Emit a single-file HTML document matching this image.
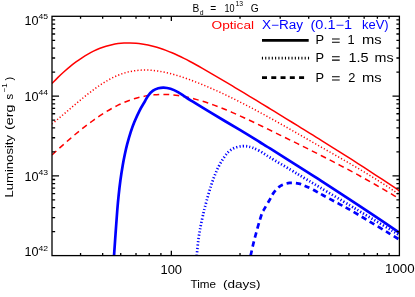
<!DOCTYPE html>
<html><head><meta charset="utf-8"><title>chart</title><style>html,body{margin:0;padding:0;background:#fff;}body{width:415px;height:297px;overflow:hidden;position:relative;font-family:"Liberation Sans",sans-serif;}</style></head><body>
<svg width="415" height="297" viewBox="0 0 415 297" style="position:absolute;left:0;top:0;will-change:transform">
<rect width="415" height="297" fill="#fff"/>
<defs><clipPath id="cp"><rect x="52.0" y="16.3" width="347.4" height="239.3"/></clipPath></defs>
<g clip-path="url(#cp)" fill="none">
<path d="M52.00 83.47 C53.00 82.46 56.00 79.34 58.00 77.40 C60.00 75.45 62.00 73.57 64.00 71.78 C66.00 69.98 68.00 68.26 70.00 66.63 C72.00 64.99 74.00 63.43 76.00 61.95 C78.00 60.48 80.00 59.08 82.00 57.77 C84.00 56.46 86.00 55.24 88.00 54.10 C90.00 52.96 92.00 51.90 94.00 50.94 C96.00 49.98 98.00 49.10 100.00 48.31 C102.00 47.53 104.00 46.84 106.00 46.23 C108.00 45.62 110.00 45.10 112.00 44.67 C114.00 44.23 116.00 43.88 118.00 43.60 C120.00 43.33 122.00 43.14 124.00 43.02 C126.00 42.90 128.00 42.86 130.00 42.89 C132.00 42.92 134.00 43.03 136.00 43.19 C138.00 43.36 140.00 43.61 142.00 43.91 C144.00 44.21 146.00 44.58 148.00 45.01 C150.00 45.43 152.00 45.92 154.00 46.47 C156.00 47.01 158.00 47.62 160.00 48.27 C162.00 48.93 164.00 49.64 166.00 50.39 C168.00 51.15 170.00 51.96 172.00 52.81 C174.00 53.66 176.00 54.56 178.00 55.50 C180.00 56.43 182.00 57.41 184.00 58.41 C186.00 59.41 188.00 60.46 190.00 61.52 C192.00 62.58 194.00 63.67 196.00 64.78 C198.00 65.88 200.00 67.01 202.00 68.15 C204.00 69.29 206.00 70.45 208.00 71.61 C210.00 72.76 212.00 73.93 214.00 75.10 C216.00 76.27 218.00 77.44 220.00 78.62 C222.00 79.80 224.00 80.98 226.00 82.17 C228.00 83.35 230.00 84.54 232.00 85.73 C234.00 86.93 236.00 88.12 238.00 89.32 C240.00 90.52 242.00 91.72 244.00 92.93 C246.00 94.13 248.00 95.34 250.00 96.55 C252.00 97.76 254.00 98.97 256.00 100.19 C258.00 101.40 260.00 102.62 262.00 103.84 C264.00 105.06 266.00 106.28 268.00 107.50 C270.00 108.73 272.00 109.95 274.00 111.18 C276.00 112.40 278.00 113.63 280.00 114.86 C282.00 116.09 284.00 117.32 286.00 118.55 C288.00 119.78 290.00 121.01 292.00 122.24 C294.00 123.48 296.00 124.71 298.00 125.94 C300.00 127.18 302.00 128.41 304.00 129.65 C306.00 130.88 308.00 132.12 310.00 133.36 C312.00 134.60 314.00 135.84 316.00 137.08 C318.00 138.32 320.00 139.57 322.00 140.81 C324.00 142.06 326.00 143.31 328.00 144.56 C330.00 145.81 332.00 147.07 334.00 148.33 C336.00 149.58 338.00 150.84 340.00 152.11 C342.00 153.37 344.00 154.64 346.00 155.91 C348.00 157.18 350.00 158.45 352.00 159.73 C354.00 161.01 356.00 162.29 358.00 163.57 C360.00 164.86 362.00 166.15 364.00 167.44 C366.00 168.74 368.00 170.04 370.00 171.34 C372.00 172.64 374.00 173.95 376.00 175.27 C378.00 176.58 380.00 177.90 382.00 179.22 C384.00 180.55 386.00 181.88 388.00 183.21 C390.00 184.55 392.00 185.89 394.00 187.23 C396.00 188.58 399.00 190.62 400.00 191.29" stroke="#ff0000" stroke-width="1.5"/>
<path d="M52.00 123.96 C53.00 123.14 56.00 120.69 58.00 119.02 C60.00 117.35 62.00 115.65 64.00 113.95 C66.00 112.26 68.00 110.54 70.00 108.84 C72.00 107.14 74.00 105.43 76.00 103.75 C78.00 102.07 80.00 100.40 82.00 98.77 C84.00 97.14 86.00 95.52 88.00 93.96 C90.00 92.40 92.00 90.87 94.00 89.41 C96.00 87.95 98.00 86.53 100.00 85.19 C102.00 83.85 104.00 82.57 106.00 81.38 C108.00 80.18 110.00 79.06 112.00 78.04 C114.00 77.02 116.00 76.09 118.00 75.27 C120.00 74.45 122.00 73.73 124.00 73.11 C126.00 72.49 128.00 71.98 130.00 71.56 C132.00 71.14 134.00 70.81 136.00 70.57 C138.00 70.32 140.00 70.17 142.00 70.10 C144.00 70.02 146.00 70.03 148.00 70.10 C150.00 70.17 152.00 70.32 154.00 70.53 C156.00 70.74 158.00 71.03 160.00 71.36 C162.00 71.69 164.00 72.09 166.00 72.53 C168.00 72.97 170.00 73.47 172.00 74.00 C174.00 74.54 176.00 75.12 178.00 75.74 C180.00 76.35 182.00 77.01 184.00 77.69 C186.00 78.37 188.00 79.09 190.00 79.82 C192.00 80.55 194.00 81.31 196.00 82.08 C198.00 82.86 200.00 83.65 202.00 84.47 C204.00 85.28 206.00 86.12 208.00 86.97 C210.00 87.82 212.00 88.69 214.00 89.58 C216.00 90.46 218.00 91.37 220.00 92.29 C222.00 93.21 224.00 94.14 226.00 95.09 C228.00 96.04 230.00 97.01 232.00 97.99 C234.00 98.96 236.00 99.96 238.00 100.96 C240.00 101.97 242.00 102.99 244.00 104.01 C246.00 105.04 248.00 106.08 250.00 107.13 C252.00 108.19 254.00 109.25 256.00 110.32 C258.00 111.39 260.00 112.47 262.00 113.56 C264.00 114.64 266.00 115.74 268.00 116.84 C270.00 117.95 272.00 119.06 274.00 120.17 C276.00 121.29 278.00 122.41 280.00 123.54 C282.00 124.67 284.00 125.80 286.00 126.94 C288.00 128.07 290.00 129.21 292.00 130.36 C294.00 131.50 296.00 132.64 298.00 133.79 C300.00 134.94 302.00 136.09 304.00 137.23 C306.00 138.38 308.00 139.53 310.00 140.68 C312.00 141.83 314.00 142.98 316.00 144.13 C318.00 145.27 320.00 146.42 322.00 147.56 C324.00 148.70 326.00 149.84 328.00 150.99 C330.00 152.13 332.00 153.27 334.00 154.41 C336.00 155.55 338.00 156.69 340.00 157.84 C342.00 158.99 344.00 160.14 346.00 161.30 C348.00 162.45 350.00 163.61 352.00 164.78 C354.00 165.95 356.00 167.12 358.00 168.30 C360.00 169.49 362.00 170.68 364.00 171.88 C366.00 173.08 368.00 174.29 370.00 175.52 C372.00 176.74 374.00 177.98 376.00 179.23 C378.00 180.48 380.00 181.74 382.00 183.02 C384.00 184.30 386.00 185.59 388.00 186.90 C390.00 188.21 392.00 189.54 394.00 190.89 C396.00 192.23 399.00 194.30 400.00 194.98" stroke="#ff0000" stroke-width="1.5" stroke-dasharray="1.2 2.1"/>
<path d="M52.00 154.91 C53.00 154.00 56.00 151.25 58.00 149.45 C60.00 147.65 62.00 145.85 64.00 144.09 C66.00 142.32 68.00 140.57 70.00 138.85 C72.00 137.13 74.00 135.43 76.00 133.77 C78.00 132.11 80.00 130.47 82.00 128.87 C84.00 127.28 86.00 125.72 88.00 124.20 C90.00 122.68 92.00 121.20 94.00 119.77 C96.00 118.35 98.00 116.96 100.00 115.63 C102.00 114.30 104.00 113.02 106.00 111.80 C108.00 110.58 110.00 109.41 112.00 108.31 C114.00 107.21 116.00 106.17 118.00 105.20 C120.00 104.23 122.00 103.32 124.00 102.48 C126.00 101.64 128.00 100.87 130.00 100.17 C132.00 99.46 134.00 98.83 136.00 98.25 C138.00 97.68 140.00 97.17 142.00 96.73 C144.00 96.28 146.00 95.90 148.00 95.59 C150.00 95.27 152.00 95.02 154.00 94.83 C156.00 94.64 158.00 94.52 160.00 94.45 C162.00 94.39 164.00 94.39 166.00 94.44 C168.00 94.50 170.00 94.63 172.00 94.81 C174.00 94.99 176.00 95.23 178.00 95.52 C180.00 95.81 182.00 96.16 184.00 96.54 C186.00 96.93 188.00 97.37 190.00 97.84 C192.00 98.31 194.00 98.82 196.00 99.37 C198.00 99.91 200.00 100.49 202.00 101.10 C204.00 101.71 206.00 102.36 208.00 103.03 C210.00 103.70 212.00 104.41 214.00 105.13 C216.00 105.86 218.00 106.62 220.00 107.40 C222.00 108.17 224.00 108.98 226.00 109.80 C228.00 110.62 230.00 111.47 232.00 112.33 C234.00 113.19 236.00 114.07 238.00 114.97 C240.00 115.86 242.00 116.77 244.00 117.70 C246.00 118.62 248.00 119.56 250.00 120.50 C252.00 121.44 254.00 122.40 256.00 123.36 C258.00 124.32 260.00 125.29 262.00 126.26 C264.00 127.23 266.00 128.21 268.00 129.19 C270.00 130.17 272.00 131.15 274.00 132.12 C276.00 133.10 278.00 134.08 280.00 135.06 C282.00 136.04 284.00 137.02 286.00 138.01 C288.00 138.99 290.00 139.97 292.00 140.96 C294.00 141.95 296.00 142.93 298.00 143.93 C300.00 144.92 302.00 145.91 304.00 146.91 C306.00 147.90 308.00 148.90 310.00 149.91 C312.00 150.91 314.00 151.92 316.00 152.93 C318.00 153.94 320.00 154.96 322.00 155.98 C324.00 157.00 326.00 158.02 328.00 159.05 C330.00 160.08 332.00 161.11 334.00 162.15 C336.00 163.19 338.00 164.24 340.00 165.29 C342.00 166.34 344.00 167.40 346.00 168.47 C348.00 169.53 350.00 170.60 352.00 171.68 C354.00 172.76 356.00 173.84 358.00 174.94 C360.00 176.03 362.00 177.13 364.00 178.24 C366.00 179.35 368.00 180.46 370.00 181.59 C372.00 182.71 374.00 183.85 376.00 184.99 C378.00 186.13 380.00 187.29 382.00 188.45 C384.00 189.61 386.00 190.78 388.00 191.96 C390.00 193.14 392.00 194.33 394.00 195.54 C396.00 196.74 399.00 198.57 400.00 199.18" stroke="#ff0000" stroke-width="1.5" stroke-dasharray="5.8 4.2"/>
<path d="M114.04 255.60 C114.30 251.78 115.09 240.30 115.63 232.70 C116.18 225.10 116.79 216.23 117.29 210.00 C117.79 203.77 118.12 200.27 118.64 195.30 C119.16 190.33 119.73 185.25 120.42 180.20 C121.11 175.15 122.06 169.23 122.78 165.00 C123.50 160.77 124.01 158.27 124.74 154.80 C125.48 151.33 126.20 147.98 127.19 144.20 C128.19 140.42 129.50 135.80 130.69 132.10 C131.89 128.40 132.86 125.63 134.36 122.00 C135.86 118.37 137.95 113.77 139.71 110.30 C141.47 106.83 143.48 103.72 144.95 101.20 C146.41 98.68 147.16 96.97 148.50 95.20 C149.84 93.43 151.37 91.75 153.00 90.60 C154.63 89.45 156.53 88.80 158.30 88.30 C160.07 87.80 161.57 87.52 163.60 87.60 C165.63 87.68 168.10 88.05 170.50 88.80 C172.90 89.55 175.58 90.78 178.00 92.10 C180.42 93.42 182.90 95.33 185.00 96.70 C187.10 98.07 186.43 97.72 190.60 100.30 C194.77 102.88 201.72 107.22 210.00 112.20 C218.28 117.18 231.97 125.19 240.30 130.21 C248.63 135.22 255.05 139.23 260.00 142.27 C264.95 145.31 262.62 143.83 270.00 148.46 C277.38 153.09 295.97 164.76 304.30 170.04 C312.63 175.31 312.33 175.13 320.00 180.09 C327.67 185.05 341.72 194.18 350.30 199.81 C358.88 205.44 363.22 208.32 371.50 213.86 C379.78 219.40 395.25 229.87 400.00 233.07" stroke="#0000ff" stroke-width="2.7"/>
<path d="M196.75 255.60 C197.02 252.95 197.74 244.58 198.38 239.70 C199.02 234.82 199.76 230.75 200.61 226.30 C201.46 221.85 202.76 216.22 203.49 213.00 C204.21 209.78 204.23 209.82 204.97 207.00 C205.70 204.18 206.87 199.73 207.91 196.10 C208.95 192.47 210.09 188.58 211.21 185.20 C212.32 181.82 213.37 178.85 214.58 175.80 C215.79 172.75 217.01 169.78 218.47 166.90 C219.92 164.02 221.68 160.97 223.31 158.50 C224.93 156.03 226.32 153.87 228.20 152.10 C230.08 150.33 232.25 148.90 234.60 147.90 C236.95 146.90 240.07 146.33 242.30 146.10 C244.53 145.87 246.27 146.22 248.00 146.50 C249.73 146.78 250.70 147.02 252.70 147.80 C254.70 148.58 257.12 149.58 260.00 151.20 C262.88 152.82 264.92 154.41 270.00 157.50 C275.08 160.59 284.67 166.24 290.50 169.74 C296.33 173.23 300.08 175.51 305.00 178.46 C309.92 181.42 312.45 182.95 320.00 187.48 C327.55 192.01 342.98 201.27 350.30 205.66 C357.62 210.05 355.62 208.85 363.90 213.81 C372.18 218.77 393.98 231.81 400.00 235.40" stroke="#0000ff" stroke-width="2.7" stroke-dasharray="1.2 2.1"/>
<path d="M250.62 255.60 C251.30 252.70 252.92 244.97 254.72 238.20 C256.52 231.43 259.85 219.80 261.41 215.00 C262.97 210.20 262.74 211.85 264.07 209.40 C265.40 206.95 267.80 203.08 269.41 200.30 C271.02 197.52 271.88 195.10 273.74 192.70 C275.61 190.30 277.94 187.53 280.60 185.90 C283.26 184.27 286.67 183.28 289.70 182.90 C292.73 182.52 296.25 183.10 298.80 183.60 C301.35 184.10 302.60 184.88 305.00 185.90 C307.40 186.92 310.20 188.13 313.20 189.70 C316.20 191.27 318.83 193.02 323.00 195.30 C327.17 197.58 332.90 200.49 338.20 203.38 C343.50 206.26 344.67 206.62 354.80 212.62 C364.93 218.62 391.63 234.92 399.00 239.38" stroke="#0000ff" stroke-width="2.7" stroke-dasharray="5.4 3.9"/>
</g>
<g stroke="#000" stroke-width="1.3" fill="none">
<rect x="52.0" y="16.3" width="347.4" height="239.3"/>
<path d="M80.56 255.60V253.10 M80.56 16.30V18.80 M102.67 255.60V253.10 M102.67 16.30V18.80 M120.73 255.60V253.10 M120.73 16.30V18.80 M136.01 255.60V253.10 M136.01 16.30V18.80 M149.24 255.60V253.10 M149.24 16.30V18.80 M160.91 255.60V253.10 M160.91 16.30V18.80 M171.35 255.60V250.80 M171.35 16.30V21.10 M240.03 255.60V253.10 M240.03 16.30V18.80 M280.20 255.60V253.10 M280.20 16.30V18.80 M308.71 255.60V253.10 M308.71 16.30V18.80 M330.82 255.60V253.10 M330.82 16.30V18.80 M348.88 255.60V253.10 M348.88 16.30V18.80 M364.16 255.60V253.10 M364.16 16.30V18.80 M377.39 255.60V253.10 M377.39 16.30V18.80 M389.06 255.60V253.10 M389.06 16.30V18.80 M52.05 231.59H55.15 M399.50 231.59H396.40 M52.05 217.54H55.15 M399.50 217.54H396.40 M52.05 207.58H55.15 M399.50 207.58H396.40 M52.05 199.85H55.15 M399.50 199.85H396.40 M52.05 193.53H55.15 M399.50 193.53H396.40 M52.05 188.19H55.15 M399.50 188.19H396.40 M52.05 183.56H55.15 M399.50 183.56H396.40 M52.05 179.48H55.15 M399.50 179.48H396.40 M52.05 175.83H59.05 M399.50 175.83H392.50 M52.05 151.82H55.15 M399.50 151.82H396.40 M52.05 137.77H55.15 M399.50 137.77H396.40 M52.05 127.81H55.15 M399.50 127.81H396.40 M52.05 120.08H55.15 M399.50 120.08H396.40 M52.05 113.76H55.15 M399.50 113.76H396.40 M52.05 108.42H55.15 M399.50 108.42H396.40 M52.05 103.80H55.15 M399.50 103.80H396.40 M52.05 99.72H55.15 M399.50 99.72H396.40 M52.05 96.07H59.05 M399.50 96.07H392.50 M52.05 72.05H55.15 M399.50 72.05H396.40 M52.05 58.01H55.15 M399.50 58.01H396.40 M52.05 48.04H55.15 M399.50 48.04H396.40 M52.05 40.31H55.15 M399.50 40.31H396.40 M52.05 34.00H55.15 M399.50 34.00H396.40 M52.05 28.66H55.15 M399.50 28.66H396.40 M52.05 24.03H55.15 M399.50 24.03H396.40 M52.05 19.95H55.15 M399.50 19.95H396.40"/>
</g>
<g stroke="#000" fill="none">
<path d="M262 40.3H308.7" stroke-width="2.8"/>
<path d="M261.9 58.2H309.2" stroke-width="2.8" stroke-dasharray="1.1 2.19"/>
<path d="M262 77.6H304.5" stroke-width="2.8" stroke-dasharray="5 4.27"/>
<path d="M332 38.90H339.7M332 42.20H339.7" stroke-width="1.05"/>
<path d="M332 56.80H339.7M332 60.10H339.7" stroke-width="1.05"/>
<path d="M332 76.70H339.7M332 80.00H339.7" stroke-width="1.05"/>
</g>
<g font-family="'Liberation Sans', sans-serif">
<text x="192.60" y="11.60" font-size="10.2">B</text>
<text x="199.85" y="14.50" font-size="6.8">d</text>
<text x="210.15" y="11.60" font-size="10.2">=</text>
<text x="224.50" y="11.60" font-size="10.2" textLength="10.08" lengthAdjust="spacingAndGlyphs">10</text>
<text x="235.50" y="6.20" font-size="6.8" textLength="7.55" lengthAdjust="spacingAndGlyphs">13</text>
<text x="250.80" y="11.60" font-size="10.2">G</text>
<text x="211.50" y="28.90" font-size="11.6" fill="#ff0000" textLength="42.54" lengthAdjust="spacingAndGlyphs">Optical</text>
<text x="262.00" y="28.80" font-size="12.0" fill="#0000ff" textLength="41.01" lengthAdjust="spacingAndGlyphs">X&#8722;Ray</text>
<text x="310.50" y="28.80" font-size="12.0" fill="#0000ff" textLength="41.54" lengthAdjust="spacingAndGlyphs">(0.1&#8722;1</text>
<text x="362.00" y="28.80" font-size="12.0" fill="#0000ff" textLength="26.60" lengthAdjust="spacingAndGlyphs">keV)</text>
<text x="315.40" y="44.20" font-size="12.8">P</text>
<text x="347.60" y="44.20" font-size="12.8">1</text>
<text x="362.00" y="44.20" font-size="12.8" textLength="19.64" lengthAdjust="spacingAndGlyphs">ms</text>
<text x="315.40" y="62.10" font-size="12.8">P</text>
<text x="348.50" y="62.10" font-size="12.8" textLength="20.14" lengthAdjust="spacingAndGlyphs">1.5</text>
<text x="374.50" y="62.10" font-size="12.8" textLength="19.07" lengthAdjust="spacingAndGlyphs">ms</text>
<text x="315.40" y="82.00" font-size="12.8">P</text>
<text x="348.25" y="82.00" font-size="12.8">2</text>
<text x="362.00" y="82.00" font-size="12.8" textLength="19.64" lengthAdjust="spacingAndGlyphs">ms</text>
<text x="160.50" y="273.60" font-size="12.5" textLength="21.55" lengthAdjust="spacingAndGlyphs">100</text>
<text x="385.00" y="273.40" font-size="12.5" textLength="29.56" lengthAdjust="spacingAndGlyphs">1000</text>
<text x="190.50" y="288.10" font-size="11.6" textLength="25.51" lengthAdjust="spacingAndGlyphs">Time</text>
<text x="223.00" y="288.10" font-size="11.6" textLength="37.57" lengthAdjust="spacingAndGlyphs">(days)</text>
<text x="24.50" y="24.80" font-size="12.5" textLength="14.10" lengthAdjust="spacingAndGlyphs">10</text>
<text x="38.50" y="19.20" font-size="8.0" textLength="9.57" lengthAdjust="spacingAndGlyphs">45</text>
<text x="24.50" y="100.70" font-size="12.5" textLength="14.10" lengthAdjust="spacingAndGlyphs">10</text>
<text x="38.50" y="95.10" font-size="8.0" textLength="9.52" lengthAdjust="spacingAndGlyphs">44</text>
<text x="24.50" y="180.70" font-size="12.5" textLength="14.10" lengthAdjust="spacingAndGlyphs">10</text>
<text x="38.50" y="175.10" font-size="8.0" textLength="9.57" lengthAdjust="spacingAndGlyphs">43</text>
<text x="24.50" y="256.20" font-size="12.5" textLength="14.10" lengthAdjust="spacingAndGlyphs">10</text>
<text x="38.50" y="250.60" font-size="8.0" textLength="9.57" lengthAdjust="spacingAndGlyphs">42</text>
<text transform="translate(12.70,197.50) rotate(-90)" font-size="11.3" textLength="62.51" lengthAdjust="spacingAndGlyphs">Luminosity</text>
<text transform="translate(12.70,130.00) rotate(-90)" font-size="11.3" textLength="25.57" lengthAdjust="spacingAndGlyphs">(erg</text>
<text transform="translate(12.70,99.45) rotate(-90)" font-size="11.3">s</text>
<text transform="translate(7.30,92.50) rotate(-90)" font-size="7.5" textLength="9.07" lengthAdjust="spacingAndGlyphs">&#8722;1</text>
<text transform="translate(12.70,80.50) rotate(-90)" font-size="11.3">)</text>
</g>
</svg>
</body></html>
